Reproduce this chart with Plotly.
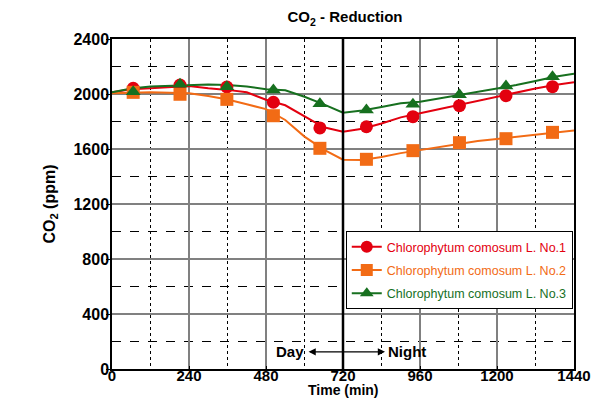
import plotly.graph_objects as go

# Continuous CO2 traces, read every 60 min
time_min = [0, 60, 120, 180, 240, 300, 360, 420, 480, 540, 600, 660, 720,
            780, 840, 900, 960, 1020, 1080, 1140, 1200, 1260, 1320, 1380, 1440]
co2_no1 = [2012, 2035, 2041, 2050, 2058, 2041, 2030, 2012, 1958, 1918, 1840, 1758, 1726,
           1748, 1785, 1830, 1860, 1890, 1920, 1950, 1985, 2010, 2040, 2065, 2085]
co2_no2 = [2005, 2010, 2012, 2010, 2005, 1985, 1960, 1925, 1890, 1811, 1690, 1595, 1522,
           1520, 1542, 1570, 1593, 1615, 1640, 1658, 1673, 1688, 1702, 1718, 1735]
co2_no3 = [2012, 2040, 2055, 2060, 2065, 2070, 2065, 2055, 2035, 2027, 1980, 1925, 1864,
           1880, 1905, 1932, 1944, 1968, 1993, 2015, 2040, 2065, 2095, 2125, 2148]

# Marker samples
marker_time = [66, 212, 358, 503, 648, 793, 938, 1083, 1228, 1373]
marker_no1 = [2041, 2065, 2051, 1940, 1753, 1762, 1835, 1915, 1988, 2053]
marker_no2 = [2012, 1998, 1961, 1842, 1605, 1525, 1588, 1646, 1675, 1721]
marker_no3 = [2017, 2071, 2053, 2029, 1929, 1884, 1925, 1995, 2058, 2126]

names = ["Chlorophytum comosum L. No.1",
         "Chlorophytum comosum L. No.2",
         "Chlorophytum comosum L. No.3"]
colors = ["#e3000f", "#f26b15", "#17701f"]
symbols = ["circle", "square", "triangle-up"]

x_ticks = [0, 240, 480, 720, 960, 1200, 1440]
y_ticks = [0, 400, 800, 1200, 1600, 2000, 2400]

FONT = "Liberation Sans, Arial, sans-serif"

fig = go.Figure()

lines = [co2_no1, co2_no2, co2_no3]
marks = [marker_no1, marker_no2, marker_no3]

for i in range(3):
    fig.add_trace(go.Scatter(x=time_min, y=lines[i], mode="lines",
                             line=dict(color=colors[i], width=2),
                             showlegend=False, hoverinfo="skip"))
for i in range(3):
    fig.add_trace(go.Scatter(x=marker_time, y=marks[i], mode="markers",
                             marker=dict(color=colors[i], symbol=symbols[i], size=13),
                             showlegend=False))
for i in range(3):
    fig.add_trace(go.Scatter(x=[None], y=[None], mode="lines+markers",
                             line=dict(color=colors[i], width=2),
                             marker=dict(color=colors[i], symbol=symbols[i], size=12),
                             legendgroup=f"g{i}",
                             name=f'<span style="color:{colors[i]}">{names[i]}</span>'))

# day / night boundary
fig.add_shape(type="line", x0=720, x1=720, y0=0, y1=2400, xref="x", yref="y",
              line=dict(color="black", width=2.5), layer="above")

# Day <-> Night arrow
fig.add_annotation(x=851, y=125, ax=608, ay=125, xref="x", yref="y",
                   axref="x", ayref="y", text="", showarrow=True,
                   arrowhead=2, startarrowhead=2, arrowside="end+start",
                   arrowsize=1.2, arrowwidth=1.2, arrowcolor="black")
fig.add_annotation(x=606, y=125, xref="x", yref="y", text="Day", showarrow=False,
                   xanchor="right", yanchor="middle",
                   font=dict(family=FONT, size=15, color="black", weight="bold"))
fig.add_annotation(x=853, y=125, xref="x", yref="y", text="Night", showarrow=False,
                   xanchor="left", yanchor="middle",
                   font=dict(family=FONT, size=15, color="black", weight="bold"))

# x-axis title
fig.add_annotation(x=0.5, y=-0.064, xref="paper", yref="paper", text="Time (min)",
                   showarrow=False, xanchor="center", yanchor="middle",
                   font=dict(family=FONT, size=14, color="black", weight="bold"))

fig.update_layout(
    width=598, height=398,
    margin=dict(l=112, r=24, t=39, b=29, autoexpand=False),
    paper_bgcolor="white", plot_bgcolor="white",
    font=dict(family=FONT, color="black"),
    title=dict(text="CO<sub>2</sub> - Reduction", x=0.577, xanchor="center",
               y=0.957, yanchor="middle", yref="container",
               font=dict(family=FONT, size=15, color="black", weight="bold")),
    legend=dict(x=0.506, y=0.418, xanchor="left", yanchor="top",
                bgcolor="white", bordercolor="black", borderwidth=1,
                font=dict(family=FONT, size=12.5), tracegroupgap=4,
                itemwidth=30),
)

fig.update_xaxes(
    range=[0, 1440], tickvals=x_ticks, ticktext=[str(v) for v in x_ticks],
    showgrid=True, gridcolor="#808080", gridwidth=1.5,
    minor=dict(dtick=120, tick0=0, showgrid=True, gridcolor="black",
               griddash="dot", gridwidth=1),
    showline=True, linecolor="black", linewidth=1.5, mirror=True,
    ticks="inside", ticklen=3, tickcolor="black", ticklabelstandoff=-8,
    tickfont=dict(family=FONT, size=15, weight="bold"),
    zeroline=False,
)
fig.update_yaxes(
    range=[0, 2400], tickvals=y_ticks, ticktext=[str(v) for v in y_ticks],
    showgrid=True, gridcolor="#808080", gridwidth=1.5,
    minor=dict(dtick=200, tick0=0, showgrid=True, gridcolor="black",
               griddash="dash", gridwidth=1),
    showline=True, linecolor="black", linewidth=1.5, mirror=True,
    ticks="outside", ticklen=4, tickcolor="black", ticklabelstandoff=-6,
    tickfont=dict(family=FONT, size=16, weight="bold"),
    title=dict(text="CO<sub>2</sub> (ppm)", standoff=14,
               font=dict(family=FONT, size=16, weight="bold")),
    zeroline=False,
)

fig.write_html("out.html")
